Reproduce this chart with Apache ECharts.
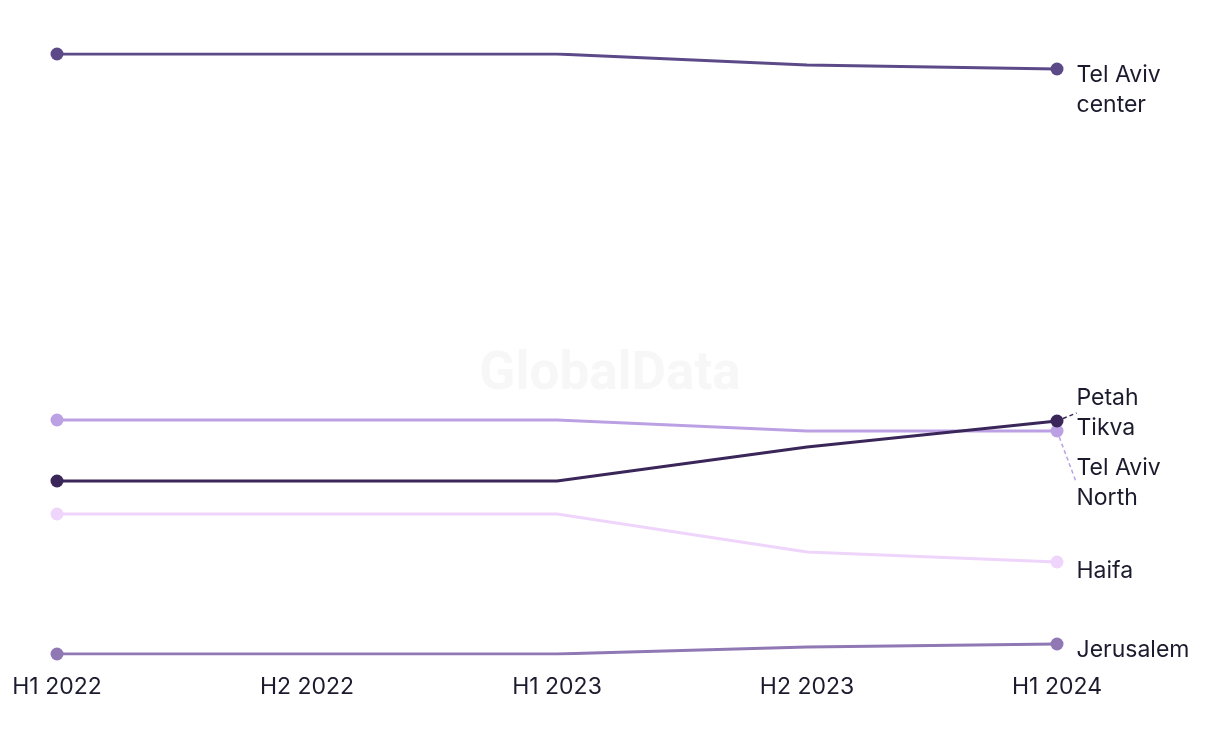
<!DOCTYPE html>
<html>
<head>
<meta charset="utf-8">
<script src="https://cdn.jsdelivr.net/npm/echarts@6/dist/echarts.min.js"></script>
<style>
  html, body { margin: 0; padding: 0; background: #fff; }
  #chart { width: 1220px; height: 744px; }
</style>
</head>
<body>
<div id="chart"></div>
<script>
// half-year periods
var periods = ['H1 2022', 'H2 2022', 'H1 2023', 'H2 2023', 'H1 2024'];

// index values
var telAvivCenter = [70, 70, 70, 68.9, 68.5];
var telAvivNorth  = [33.4, 33.4, 33.4, 32.3, 32.3];
var petahTikva    = [27.3, 27.3, 27.3, 30.7, 33.3];
var haifa         = [24, 24, 24, 20.2, 19.2];
var jerusalem     = [10, 10, 10, 10.7, 11];

var textColor = '#1c1b2e';
var font = 'Inter, "Noto Sans", sans-serif';

function makeSeries(name, label, values, color, dy, leader) {
  var last = values.length - 1;
  return {
    name: name,
    type: 'line',
    data: values.map(function (v, i) {
      if (i !== last) return v;
      return { value: v, label: { show: true } };
    }),
    symbol: function (v, p) { return (p.dataIndex === 0 || p.dataIndex === last) ? 'circle' : 'none'; },
    symbolSize: 13,
    showAllSymbol: true,
    lineStyle: { color: color, width: 3 },
    itemStyle: { color: color },
    label: {
      show: false,
      position: 'right',
      distance: 13,
      formatter: label,
      color: textColor,
      fontFamily: font,
      fontSize: 23,
      lineHeight: 30
    },
    labelLayout: { dy: dy },
    labelLine: {
      show: leader,
      length2: 0,
      lineStyle: { color: color, width: 1.5, type: [4, 3] }
    },
    emphasis: { disabled: true },
    animation: false
  };
}

var chart = echarts.init(document.getElementById('chart'));
chart.setOption({
  backgroundColor: '#fff',
  title: {
    text: 'GlobalData',
    left: 'center',
    top: 344,
    textStyle: { color: '#f7f7f7', fontSize: 53, fontWeight: 'bold', fontFamily: 'Roboto, sans-serif' }
  },
  grid: { left: 57, right: 163, top: 54, bottom: 90 },
  xAxis: {
    type: 'category',
    data: periods,
    boundaryGap: false,
    axisLine: { show: false },
    axisTick: { show: false },
    splitLine: { show: false },
    axisLabel: { color: textColor, fontFamily: font, fontSize: 23, margin: 22 }
  },
  yAxis: {
    type: 'value',
    min: 10,
    max: 70,
    show: false,
    splitLine: { show: false }
  },
  series: [
    makeSeries('Jerusalem', 'Jerusalem', jerusalem, '#9078b4', 6, false),
    makeSeries('Haifa', 'Haifa', haifa, '#efd5fb', 9, false),
    makeSeries('Tel Aviv North', 'Tel Aviv\nNorth', telAvivNorth, '#bba1e4', 52, true),
    makeSeries('Tel Aviv center', 'Tel Aviv\ncenter', telAvivCenter, '#5c4a88', 21, false),
    makeSeries('Petah Tikva', 'Petah\nTikva', petahTikva, '#3a2659', -8, true)
  ]
});
</script>
</body>
</html>
